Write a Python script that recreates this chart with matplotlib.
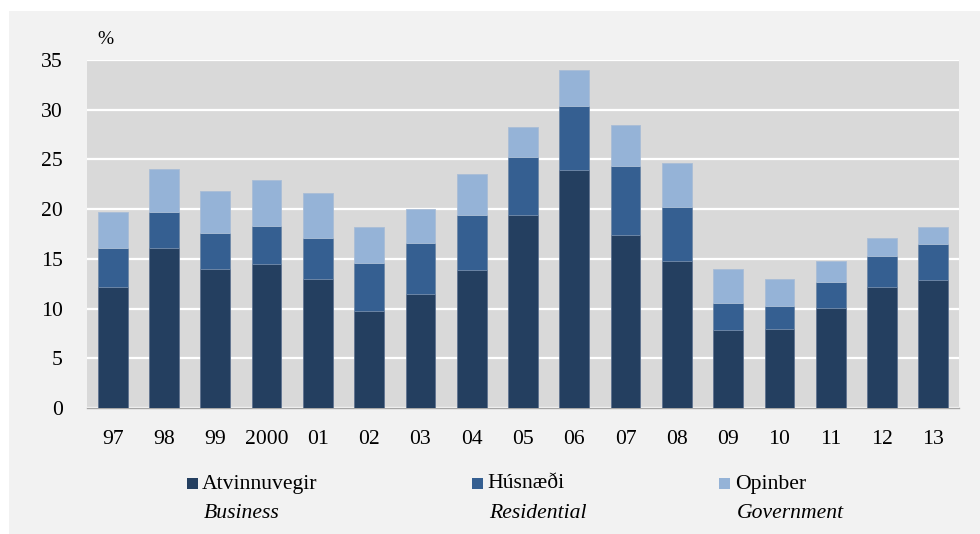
import matplotlib
matplotlib.use("Agg")
import matplotlib.pyplot as plt
from matplotlib.patches import Rectangle
import numpy as np

years = ["97", "98", "99", "2000", "01", "02", "03", "04", "05", "06", "07", "08", "09", "10", "11", "12", "13"]
business = [12.2, 16.05, 14.0, 14.5, 13.0, 9.75, 11.5, 13.9, 19.4, 23.95, 17.35, 14.8, 7.85, 7.97, 10.08, 12.16, 12.83]
residential = [3.9, 3.65, 3.6, 3.8, 4.1, 4.85, 5.1, 5.5, 5.8, 6.4, 6.95, 5.4, 2.7, 2.28, 2.58, 3.14, 3.67]
government = [3.6, 4.3, 4.2, 4.6, 4.5, 3.6, 3.4, 4.1, 3.1, 3.65, 4.2, 4.4, 3.42, 2.68, 2.08, 1.8, 1.7]

labels_is = ["Atvinnuvegir", "Húsnæði", "Opinber"]
labels_en = ["Business", "Residential", "Government"]
colors = ["#243F60", "#355F91", "#95B3D7"]
yticks = [0, 5, 10, 15, 20, 25, 30, 35]

plt.rcParams['font.family'] = ['Liberation Serif', 'DejaVu Serif']
FS = 15.6

W, H = 980, 534
fig = plt.figure(figsize=(W / 100, H / 100), dpi=100)
fig.patch.set_facecolor("white")
fig.patches.append(Rectangle((9 / W, 0), 1 - 9 / W, 1 - 11 / H, transform=fig.transFigure,
                             facecolor="#F2F2F2", edgecolor="none", zorder=-10))

ax = fig.add_axes([87 / W, 1 - 408 / H, (959 - 87) / W, (408 - 60) / H])
ax.set_facecolor("#D9D9D9")

x = np.arange(len(years))
w = 0.58
b = np.array(business)
r = np.array(residential)
g = np.array(government)
ax.bar(x, b, w, color=colors[0], edgecolor="#5F7390", linewidth=0.6, zorder=3)
ax.bar(x, r, w, bottom=b, color=colors[1], edgecolor="#6F88A8", linewidth=0.6, zorder=3)
ax.bar(x, g, w, bottom=b + r, color=colors[2], edgecolor="#A9BDD6", linewidth=0.6, zorder=3)

ax.set_xlim(-0.5, len(years) - 0.5)
ax.set_ylim(0, 35)
ax.set_yticks(yticks)
ax.set_yticklabels([str(t) for t in yticks], fontsize=FS)
ax.set_xticks(x)
ax.set_xticklabels(years, fontsize=FS)
ax.tick_params(axis="both", length=0)
ax.tick_params(axis="y", pad=17.5)
ax.tick_params(axis="x", pad=15.5)
ax.yaxis.grid(True, color="white", linewidth=1.6, zorder=1)
ax.set_axisbelow(True)
for s in ["top", "right", "left"]:
    ax.spines[s].set_visible(False)
ax.spines["bottom"].set_color("#A6A6A6")
ax.spines["bottom"].set_linewidth(1.0)

fig.text(105 / W, 1 - 40 / H, "%", fontsize=14, ha="center", va="center")

leg_sq_x = [187, 472, 719]
leg_txt_x = [202, 487, 735]
for i in range(3):
    fig.patches.append(Rectangle((leg_sq_x[i] / W, 1 - 489 / H), 11 / W, 11 / H,
                                 transform=fig.transFigure, facecolor=colors[i],
                                 edgecolor="none", zorder=2))
    fig.text(leg_txt_x[i] / W, 1 - 484 / H, labels_is[i], fontsize=FS, ha="left", va="center")
    fig.text((leg_txt_x[i] + 2) / W, 1 - 513 / H, labels_en[i], fontsize=FS,
             ha="left", va="center", style="italic")

fig.savefig("out.png", dpi=100, facecolor=fig.get_facecolor())
